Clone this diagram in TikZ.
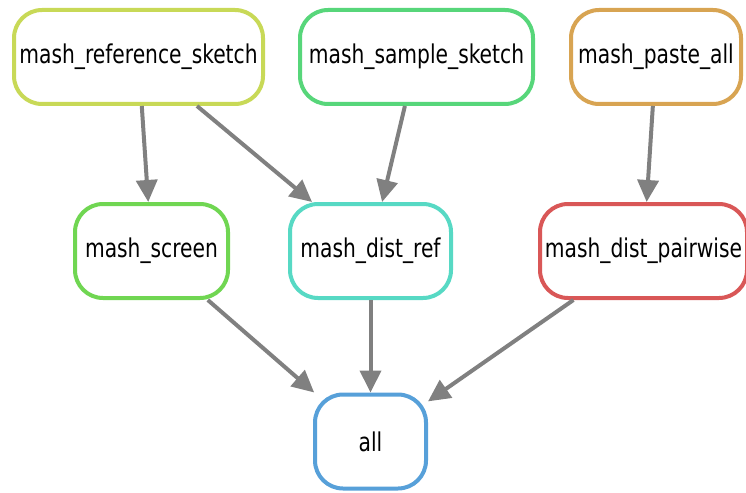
\documentclass[tikz,border=0pt]{standalone}
\usepackage{fontspec}
\usepackage{graphicx}
\setmainfont{DejaVu Sans Condensed}
\usetikzlibrary{arrows.meta}
\definecolor{cref}{RGB}{200,217,87}
\definecolor{csample}{RGB}{87,214,122}
\definecolor{cpaste}{RGB}{216,164,82}
\definecolor{cscreen}{RGB}{112,214,82}
\definecolor{cdistref}{RGB}{87,217,196}
\definecolor{cpair}{RGB}{217,87,87}
\definecolor{call}{RGB}{87,160,217}
\definecolor{edgegray}{RGB}{128,128,128}
% rule names are set a little taller than the condensed face
\newcommand{\rulename}[1]{\scalebox{1}[1.15]{#1}}
\begin{document}
\begin{tikzpicture}[x=1pt,y=-1pt,
  job/.style={draw, line width=4pt, rounded corners=28pt, fill=white,
    font=\fontsize{22.5}{27}\selectfont, inner sep=0pt, minimum height=94pt},
  dep/.style={draw=edgegray, line width=4pt, -{Triangle[length=22pt,width=21pt]}}]
\useasboundingbox (0,0) rectangle (746,492);
\clip (0,0) rectangle (746,492);
% rules of the workflow
\node[job, draw=cref,     minimum width=249pt] (ref)    at (138.5,57)  {\rulename{mash\_reference\_sketch}};
\node[job, draw=csample,  minimum width=233pt] (sample) at (416.5,57)  {\rulename{mash\_sample\_sketch}};
\node[job, draw=cpaste,   minimum width=170pt] (paste)  at (656,57)    {\rulename{mash\_paste\_all}};
\node[job, draw=cscreen,  minimum width=153pt] (screen) at (151.5,251) {\rulename{mash\_screen}};
\node[job, draw=cdistref, minimum width=161pt] (dref)   at (370.5,251) {\rulename{mash\_dist\_ref}};
\node[job, draw=cpair,    minimum width=207pt] (pair)   at (643.5,251) {\rulename{mash\_dist\_pairwise}};
\node[job, draw=call,     minimum width=111pt] (all)    at (370.5,441.5) {\rulename{all}};
% dependencies
\draw[dep] (ref) -- (screen);
\draw[dep] (ref) -- (dref);
\draw[dep] (sample) -- (dref);
\draw[dep] (paste) -- (pair);
\draw[dep] (screen) -- (all);
\draw[dep] (dref) -- (all);
\draw[dep] (pair) -- (all);
\end{tikzpicture}
\end{document}
